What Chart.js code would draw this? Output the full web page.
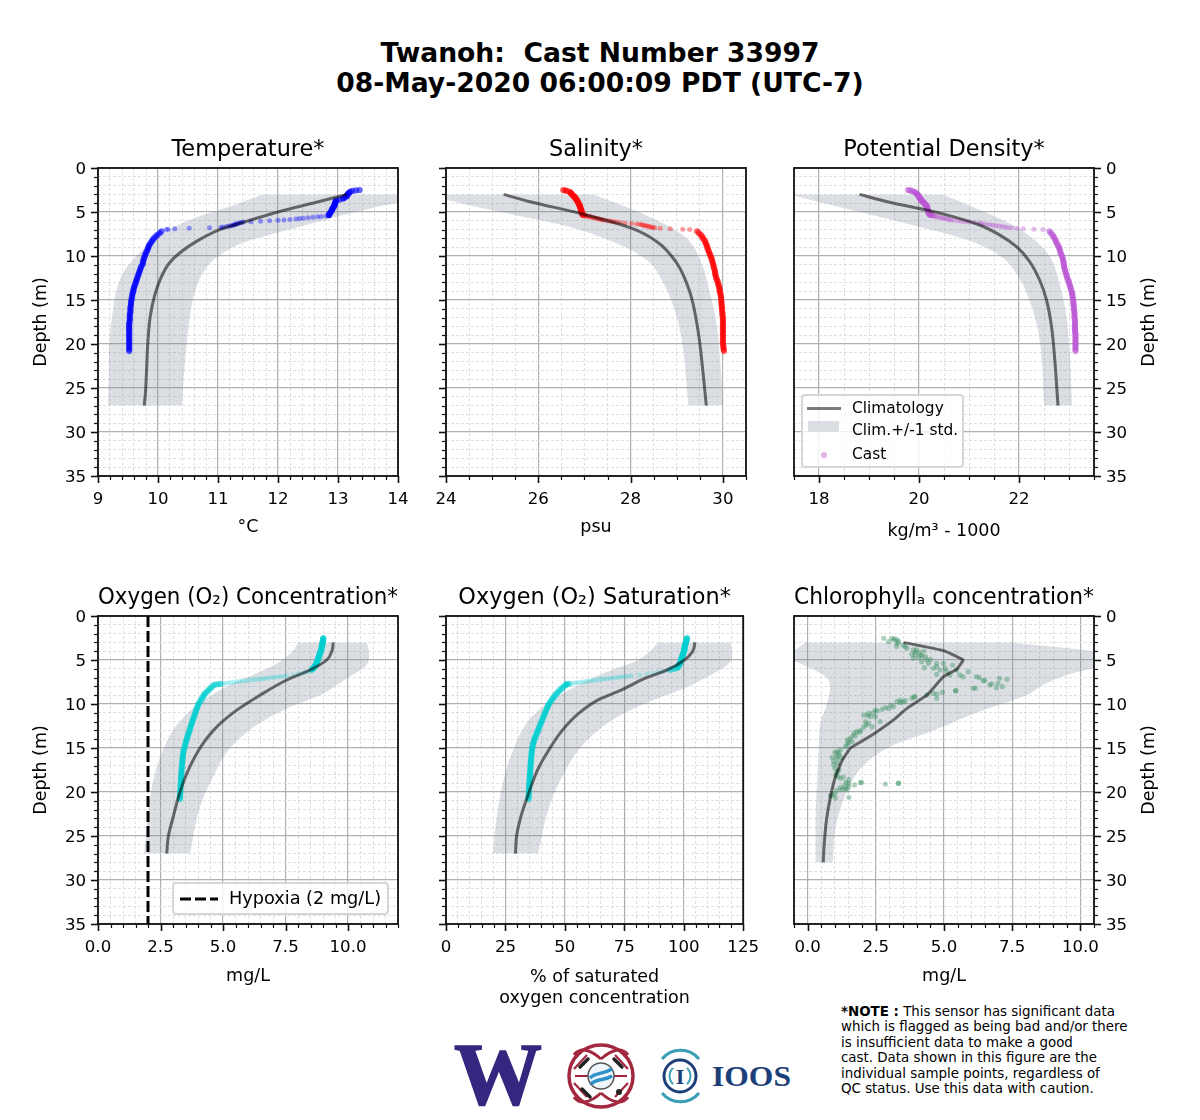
<!DOCTYPE html>
<html>
<head>
<meta charset="utf-8">
<title>Twanoh cast 33997</title>
<script src="https://cdn.jsdelivr.net/npm/chart.js@4"></script>
<style>
  html, body { margin: 0; padding: 0; background: #fff; }
  body { position: relative; width: 1200px; height: 1120px; overflow: hidden; font-family: "DejaVu Sans", sans-serif; color: #000; }
  canvas { position: absolute; display: block; }
  #main-title { position: absolute; left: 0; width: 1200px; top: 38px; text-align: center; font-weight: bold; font-size: 26.6px; line-height: 30px; white-space: pre; }
  #note { position: absolute; left: 841px; top: 1004px; font-size: 13.4px; line-height: 15.4px; white-space: pre; }
  .legend { position: absolute; box-sizing: border-box; background: rgba(255, 255, 255, 0.8); border: 2px solid #d6d6d6; border-radius: 4px; }
  .legend span { position: absolute; white-space: pre; line-height: 18px; }
  #logos { position: absolute; left: 440px; top: 1035px; }
</style>
</head>
<body>
<div id="main-title">Twanoh:  Cast Number 33997
08-May-2020 06:00:09 PDT (UTC-7)</div>

<canvas id="temp"></canvas>
<canvas id="sal"></canvas>
<canvas id="rho"></canvas>
<canvas id="o2conc"></canvas>
<canvas id="o2sat"></canvas>
<canvas id="chl"></canvas>

<div class="legend" style="left:801px;top:394px;width:163px;height:74px;font-size:15.4px;">
  <span style="left:4px;top:11px;width:34px;height:3px;background:#7a7a7a;"></span>
  <span style="left:5px;top:25px;width:31px;height:11px;background:#dbdfe3;"></span>
  <span style="left:18px;top:56px;width:6px;height:6px;border-radius:3px;background:#e5b3ea;"></span>
  <span style="left:49px;top:3px;">Climatology</span>
  <span style="left:49px;top:25px;">Clim.+/-1 std.</span>
  <span style="left:49px;top:49px;">Cast</span>
</div>
<div class="legend" style="left:172px;top:882px;width:217px;height:33px;font-size:17.7px;">
  <svg style="position:absolute;left:6px;top:12px;" width="40" height="6"><line x1="0" y1="3" x2="38" y2="3" stroke="#000" stroke-width="3" stroke-dasharray="11,4"></line></svg>
  <span style="left:55px;top:5px;">Hypoxia (2 mg/L)</span>
</div>

<svg id="logos" width="360" height="80" viewBox="0 0 360 80">
  <text x="58" y="69" text-anchor="middle" font-family="Liberation Serif" font-weight="bold" font-size="88" fill="#33277f" stroke="#33277f" stroke-width="1.5">W</text>
  <g fill="none" stroke="#a3283f">
    <ellipse cx="161" cy="41" rx="32" ry="31" stroke-width="3.5"></ellipse>
    <path d="M161 24 C150 14 140 12 134 20 M161 24 C172 14 182 12 188 20 M161 58 C150 68 140 70 134 62 M161 58 C172 68 182 70 188 62" stroke-width="3"></path>
    <path d="M134 48 L147 62 M188 48 L175 62 M134 34 L147 20 M188 34 L175 20 M135 41 L148 41 M187 41 L174 41" stroke-width="2.2"></path>
  </g>
  <g stroke="#222" stroke-width="3.5" stroke-linecap="round">
    <line x1="140" y1="32" x2="148" y2="24"></line><line x1="174" y1="24" x2="182" y2="32"></line>
    <line x1="142" y1="54" x2="150" y2="62"></line>
  </g>
  <circle cx="179" cy="57" r="3" fill="#222"></circle>
  <circle cx="161" cy="41" r="13" fill="#eef6fb" stroke="#555" stroke-width="1.5"></circle>
  <path d="M150 43 C156 37 162 40 172 34 M151 49 C157 43 164 46 172 41" fill="none" stroke="#2f8fc9" stroke-width="3.5"></path>
  <g fill="none">
    <path d="M222 24 A24 24 0 0 1 259 24" stroke="#3a9fb4" stroke-width="3"></path>
    <path d="M222 58 A24 24 0 0 0 259 58" stroke="#3a9fb4" stroke-width="3"></path>
    <circle cx="240" cy="41" r="16" stroke="#1d3f79" stroke-width="3"></circle>
    <path d="M233 33 A11 11 0 0 0 233 49 M247 33 A11 11 0 0 1 247 49" stroke="#3a9fb4" stroke-width="2"></path>
  </g>
  <text x="240" y="49" text-anchor="middle" font-family="Liberation Serif" font-weight="bold" font-size="22" fill="#1d3f79">I</text>
  <text x="272" y="51" font-family="Liberation Serif" font-weight="bold" font-size="30" textLength="79" lengthAdjust="spacingAndGlyphs" fill="#1d3f79">IOOS</text>
</svg>

<div id="note"><b>*NOTE :</b> This sensor has significant data
which is flagged as being bad and/or there
is insufficient data to make a good
cast. Data shown in this figure are the
individual sample points, regardless of
QC status. Use this data with caution.</div>

<script>
// cast depths shared by temperature, salinity and density (m)
const castDepth = [
  2.5, 2.55, 2.6, 2.7, 2.8, 2.9, 3.0, 3.1, 3.2, 3.3, 3.4, 3.5, 3.6, 3.7, 3.8, 3.9, 4.0, 4.1, 4.2, 4.3, 4.4, 4.5, 4.6, 4.7, 4.8, 4.9, 5.0, 5.1, 5.2, 5.3,
  5.35, 5.4, 5.42, 5.45, 5.5, 5.55, 5.6, 5.65, 5.7, 5.75, 5.8, 5.85, 5.9, 5.95, 6.0, 6.05, 6.1, 6.15, 6.2, 6.25, 6.3, 6.35, 6.4, 6.45, 6.5, 6.55, 6.6, 6.65, 6.7, 6.75, 6.8, 6.85, 6.9, 6.95, 7.0,
  7.2, 7.4, 7.6, 7.8, 8.0, 8.2, 8.4, 8.6, 8.8, 9.0, 9.2, 9.4, 9.6, 9.8, 10.0, 10.2, 10.4, 10.6, 10.8, 11.0, 11.2, 11.4, 11.6, 11.8, 12.0, 12.2, 12.4, 12.6, 12.8, 13.0, 13.2, 13.4, 13.6, 13.8, 14.0,
  14.2, 14.4, 14.6, 14.8, 15.0, 15.2, 15.4, 15.6, 15.8, 16.0, 16.2, 16.4, 16.6, 16.8, 17.0, 17.2, 17.4, 17.6, 17.8, 18.0, 18.2, 18.4, 18.6, 18.8, 19.0, 19.2, 19.4, 19.6, 19.8, 20.0, 20.2, 20.4, 20.6, 20.8
];
const tempCast = [
  13.36, 13.3, 13.24, 13.2, 13.19, 13.17, 13.16, 13.15, 13.15, 13.12, 13.1, 13.08, 13.02, 12.97, 12.96, 12.96, 12.95, 12.95, 12.94, 12.94, 12.93, 12.92, 12.91, 12.9, 12.9, 12.89, 12.88, 12.87, 12.86, 12.85,
  12.85, 12.85, 12.84, 12.8, 12.72, 12.66, 12.58, 12.5, 12.42, 12.36, 12.3, 12.2, 12.1, 12.0, 11.86, 11.71, 11.55, 11.42, 11.39, 11.36, 11.33, 11.31, 11.29, 11.27, 11.25, 11.22, 11.19, 11.14, 11.08, 11.05, 10.86, 10.52, 10.28, 10.17, 10.14,
  10.06, 10.03, 9.99, 9.96, 9.93, 9.91, 9.89, 9.87, 9.85, 9.84, 9.83, 9.82, 9.8, 9.79, 9.78, 9.77, 9.76, 9.75, 9.75, 9.74, 9.72, 9.71, 9.7, 9.69, 9.68, 9.67, 9.66, 9.65, 9.64, 9.63, 9.62, 9.61, 9.6, 9.59, 9.59,
  9.58, 9.57, 9.57, 9.56, 9.56, 9.55, 9.55, 9.55, 9.54, 9.54, 9.54, 9.54, 9.53, 9.53, 9.53, 9.53, 9.53, 9.52, 9.52, 9.52, 9.52, 9.52, 9.52, 9.52, 9.52, 9.52, 9.52, 9.52, 9.52, 9.52, 9.52, 9.52, 9.52, 9.52
];
const salCast = [
  26.54, 26.58, 26.62, 26.68, 26.7, 26.71, 26.73, 26.75, 26.77, 26.79, 26.8, 26.81, 26.83, 26.84, 26.85, 26.86, 26.87, 26.88, 26.89, 26.9, 26.9, 26.91, 26.92, 26.92, 26.93, 26.93, 26.94, 26.95, 26.95, 26.96,
  26.98, 27.0, 27.02, 27.05, 27.08, 27.12, 27.16, 27.2, 27.24, 27.28, 27.32, 27.36, 27.4, 27.45, 27.52, 27.58, 27.64, 27.7, 27.78, 27.88, 28.02, 28.13, 28.2, 28.24, 28.28, 28.32, 28.36, 28.4, 28.44, 28.48, 28.52, 28.64, 28.86, 29.13, 29.28,
  29.44, 29.48, 29.52, 29.55, 29.57, 29.6, 29.62, 29.63, 29.65, 29.66, 29.67, 29.69, 29.7, 29.72, 29.73, 29.75, 29.76, 29.77, 29.78, 29.79, 29.8, 29.81, 29.82, 29.83, 29.83, 29.84, 29.85, 29.86, 29.88, 29.89, 29.9, 29.91, 29.92, 29.93, 29.93,
  29.94, 29.95, 29.96, 29.96, 29.96, 29.97, 29.97, 29.97, 29.98, 29.98, 29.98, 29.99, 29.99, 29.99, 30.0, 30.0, 30.0, 30.0, 30.0, 30.0, 30.0, 30.0, 30.0, 30.0, 30.0, 30.0, 30.0, 30.0, 30.0, 30.0, 30.01, 30.01, 30.02, 30.02
];
const rhoCast = [
  19.78, 19.82, 19.86, 19.9, 19.93, 19.95, 19.97, 19.98, 20.0, 20.0, 20.01, 20.03, 20.04, 20.05, 20.07, 20.09, 20.1, 20.12, 20.14, 20.15, 20.16, 20.16, 20.17, 20.17, 20.18, 20.18, 20.19, 20.19, 20.2, 20.22,
  20.24, 20.26, 20.28, 20.3, 20.33, 20.36, 20.4, 20.44, 20.48, 20.52, 20.56, 20.6, 20.64, 20.7, 20.78, 20.85, 20.92, 21.0, 21.1, 21.2, 21.25, 21.3, 21.36, 21.42, 21.48, 21.54, 21.6, 21.66, 21.72, 21.78, 21.85, 21.96, 22.08, 22.3, 22.48,
  22.61, 22.64, 22.67, 22.69, 22.71, 22.73, 22.74, 22.76, 22.78, 22.8, 22.81, 22.82, 22.83, 22.84, 22.86, 22.87, 22.88, 22.89, 22.89, 22.9, 22.9, 22.91, 22.92, 22.93, 22.94, 22.95, 22.96, 22.97, 22.99, 23.0, 23.01, 23.02, 23.03, 23.04, 23.05,
  23.06, 23.07, 23.07, 23.08, 23.08, 23.09, 23.09, 23.09, 23.1, 23.1, 23.1, 23.11, 23.11, 23.11, 23.11, 23.12, 23.12, 23.12, 23.12, 23.12, 23.12, 23.12, 23.12, 23.13, 23.13, 23.13, 23.13, 23.13, 23.13, 23.13, 23.13, 23.13, 23.13, 23.13
];

// cast depths for the two oxygen panels (m)
const o2Depth = [
  2.5, 2.6, 2.7, 2.8, 2.9, 3.0, 3.1, 3.2, 3.3, 3.4, 3.5, 3.6, 3.7, 3.8, 3.9, 4.0, 4.1, 4.2, 4.3, 4.4, 4.5, 4.6, 4.7, 4.8, 4.9, 5.0, 5.1, 5.2, 5.3,
  5.4, 5.5, 5.6, 5.7, 5.8, 5.9, 6.0, 6.1, 6.2, 6.3, 6.4, 6.5, 6.6, 6.7,
  6.8, 6.84, 6.88, 6.92, 6.96, 7.0, 7.04, 7.08, 7.12, 7.16, 7.2, 7.24, 7.28, 7.32, 7.36, 7.4, 7.44, 7.48, 7.52, 7.56, 7.6, 7.64, 7.68, 7.72, 7.76,
  7.8, 8.0, 8.2, 8.4, 8.6, 8.8, 9.0, 9.2, 9.4, 9.6, 9.8, 10.0, 10.2, 10.4, 10.6, 10.8, 11.0, 11.2, 11.4, 11.6, 11.8, 12.0, 12.2, 12.4, 12.6, 12.8, 13.0, 13.2, 13.4, 13.6, 13.8, 14.0,
  14.2, 14.4, 14.6, 14.8, 15.0, 15.2, 15.4, 15.6, 15.8, 16.0, 16.2, 16.4, 16.6, 16.8, 17.0, 17.2, 17.4, 17.6, 17.8, 18.0, 18.2, 18.4, 18.6, 18.8, 19.0, 19.2, 19.4, 19.6, 19.8, 20.0, 20.2, 20.4, 20.6, 20.8
];
const o2ConcCast = [
  9.01, 9.01, 9.0, 9.0, 8.99, 8.99, 8.98, 8.98, 8.97, 8.96, 8.95, 8.95, 8.94, 8.93, 8.92, 8.91, 8.9, 8.89, 8.87, 8.86, 8.85, 8.84, 8.82, 8.81, 8.8, 8.79, 8.78, 8.76, 8.75,
  8.74, 8.72, 8.7, 8.68, 8.65, 8.62, 8.59, 8.55, 8.5, 8.42, 8.3, 8.15, 8.0, 7.8,
  7.55, 7.42, 7.3, 7.18, 7.06, 6.95, 6.82, 6.7, 6.6, 6.48, 6.36, 6.24, 6.12, 6.0, 5.88, 5.76, 5.65, 5.54, 5.43, 5.32, 5.22, 5.12, 5.02, 4.9, 4.78,
  4.66, 4.58, 4.5, 4.43, 4.36, 4.28, 4.24, 4.2, 4.15, 4.11, 4.06, 4.02, 3.99, 3.97, 3.94, 3.92, 3.89, 3.87, 3.85, 3.82, 3.8, 3.77, 3.75, 3.73, 3.7, 3.68, 3.66, 3.64, 3.62, 3.59, 3.57, 3.55,
  3.53, 3.51, 3.49, 3.47, 3.45, 3.43, 3.42, 3.41, 3.4, 3.39, 3.38, 3.38, 3.37, 3.36, 3.36, 3.35, 3.35, 3.34, 3.34, 3.33, 3.33, 3.32, 3.32, 3.32, 3.31, 3.31, 3.3, 3.3, 3.3, 3.29, 3.29, 3.28, 3.28, 3.28
];
const o2SatCast = [
  101.4, 101.3, 101.2, 101.1, 101.0, 100.9, 100.8, 100.7, 100.6, 100.5, 100.4, 100.4, 100.3, 100.3, 100.2, 100.1, 100.0, 99.9, 99.7, 99.6, 99.5, 99.4, 99.2, 99.1, 99.0, 98.9, 98.8, 98.7, 98.6,
  98.4, 98.2, 98.0, 97.8, 97.5, 97.2, 96.0, 94.5, 93.0, 91.0, 89.0, 87.0, 84.5, 81.5,
  78.0, 76.7, 75.4, 74.0, 72.8, 71.5, 70.2, 69.0, 67.8, 66.6, 65.5, 64.3, 63.1, 62.0, 60.9, 59.8, 58.7, 57.6, 56.6, 55.5, 54.5, 53.5, 52.5, 51.6, 50.8,
  50.4, 49.6, 48.8, 48.0, 47.3, 46.6, 46.0, 45.4, 44.8, 44.3, 43.8, 43.3, 43.0, 42.6, 42.3, 42.0, 41.7, 41.4, 41.1, 40.8, 40.5, 40.2, 39.9, 39.6, 39.3, 39.0, 38.7, 38.4, 38.1, 37.8, 37.5, 37.2,
  37.0, 36.8, 36.6, 36.4, 36.3, 36.2, 36.1, 36.0, 35.9, 35.9, 35.8, 35.7, 35.7, 35.6, 35.6, 35.5, 35.5, 35.4, 35.4, 35.3, 35.3, 35.2, 35.2, 35.1, 35.1, 35.0, 35.0, 34.9, 34.9, 34.8, 34.8, 34.8, 34.7, 34.7
];

// chlorophyll samples are scattered, so they keep their own depth list
const chlDepth = [
  2.54, 2.92, 2.54, 2.61, 2.73, 2.7, 3.1, 2.95, 3.48, 3.48, 3.67, 3.3, 3.86, 3.86, 3.98, 4.1, 4.15, 4.36, 4.43, 4.43, 4.62, 4.81, 4.7, 4.55, 5.0, 5.19, 5.38, 4.95, 5.87, 5.95,
  5.38, 5.38, 5.76, 5.95, 5.57, 6.14, 6.7, 6.14, 6.63, 6.89, 6.33, 6.7, 6.3, 6.89, 7.0, 7.35, 7.3, 7.84, 7.7, 7.08, 7.2, 7.65, 8.03, 8.14, 8.22, 8.2, 8.48, 8.5, 8.67, 8.86,
  8.8, 9.36, 8.97, 9.17, 9.36, 9.2, 9.62, 9.55, 9.75, 9.73, 9.85, 10.3, 10.15, 10.5, 10.6, 10.4, 10.68, 10.8, 11.06, 11.0, 11.25, 11.44, 11.44, 11.3, 12.0, 12.0, 12.2, 12.6, 12.6, 12.4,
  13.0, 13.1, 13.2, 13.3, 13.7, 13.6, 14.1, 14.0, 14.3, 14.4, 14.85, 14.6, 15.4, 15.2, 15.6, 15.5, 16.06, 15.8, 16.0, 16.1, 16.3, 16.9, 16.5, 16.8, 17.7, 17.3, 17.5, 18.07, 18.2, 18.45,
  18.3, 18.6, 18.9, 18.94, 18.9, 19.2, 19.05, 19.4, 19.3, 19.7, 19.6, 19.8, 19.5, 19.75, 20.45, 20.3, 20.7, 20.2, 20.6, 19.1, 19.0, 19.02
];
const chlCast = [
  2.79, 2.97, 3.09, 3.21, 3.3, 3.15, 3.27, 3.33, 3.27, 3.58, 3.64, 3.5, 3.88, 4.0, 4.26, 3.95, 4.1, 3.82, 3.94, 4.14, 4.32, 3.88, 4.07, 4.2, 4.37, 4.18, 4.43, 4.5, 4.28, 4.61,
  4.73, 4.98, 4.73, 5.04, 5.32, 4.85, 5.22, 5.46, 4.73, 5.7, 5.89, 5.58, 5.1, 6.19, 6.3, 6.44, 6.5, 6.68, 6.75, 7.04, 7.31, 6.98, 7.14, 6.92, 6.07, 6.15, 5.43, 5.43, 4.94, 4.73,
  4.6, 4.73, 4.37, 3.94, 3.82, 3.9, 3.58, 3.39, 3.5, 3.27, 3.4, 3.15, 3.05, 2.97, 2.73, 2.85, 2.48, 2.55, 2.24, 2.4, 2.06, 2.3, 2.48, 2.2, 2.66, 2.12, 2.24, 2.36, 2.06, 2.15,
  1.95, 1.81, 1.9, 1.7, 1.63, 1.75, 1.45, 1.55, 1.63, 1.5, 1.39, 1.45, 1.08, 1.2, 1.15, 1.0, 0.9, 1.14, 1.05, 1.25, 1.1, 0.96, 0.95, 1.1, 1.08, 1.0, 1.15, 1.02, 1.1, 1.2,
  1.3, 1.51, 1.4, 1.93, 1.98, 1.72, 1.5, 1.51, 1.35, 1.27, 1.4, 1.08, 1.2, 1.45, 0.84, 0.9, 1.02, 1.0, 1.51, 2.85, 3.33, 3.33
];

// climatology mean and +/- 1 std edges
const tempClimDepth = [3, 3.9, 5, 6.06, 7, 8.14, 9.66, 10.8, 12.3, 14.6, 16.9, 19.9, 22.9, 25.6, 27];
const tempClim = [13.15, 12.64, 12.0, 11.47, 11.03, 10.69, 10.36, 10.19, 10.06, 9.94, 9.87, 9.83, 9.81, 9.79, 9.77];
const tempLowDepth = [3, 4.5, 6.06, 7.76, 9.66, 11.7, 13.8, 16.1, 19.9, 23.7, 27];
const tempLow = [11.75, 11.14, 10.47, 10.03, 9.69, 9.44, 9.31, 9.25, 9.19, 9.18, 9.17];
const tempHighDepth = [3, 4, 4.9, 5.87, 7.4, 8.5, 10.2, 11.9, 14.2, 16.5, 19.9, 23.7, 27];
const tempHigh = [15.6, 14.0, 13.36, 12.8, 11.97, 11.42, 10.97, 10.75, 10.61, 10.54, 10.48, 10.43, 10.4];

const salClimDepth = [3, 3.83, 5.15, 6.78, 8.37, 10.8, 14.2, 18.8, 21.8, 27];
const salClim = [25.25, 25.82, 26.9, 27.99, 28.57, 29.0, 29.29, 29.47, 29.54, 29.64];
const salLowDepth = [3, 3.6, 5.3, 6.5, 8.4, 10.45, 13.1, 16.9, 20.7, 27];
const salLow = [23.6, 24.0, 25.46, 26.54, 27.63, 28.35, 28.71, 29.0, 29.14, 29.25];
const salHighDepth = [3, 4.6, 6.3, 8, 10.45, 14.2, 18, 21.8, 27];
const salHigh = [27.19, 27.99, 28.71, 29.22, 29.51, 29.72, 29.87, 29.94, 30.0];

const rhoClimDepth = [3, 3.9, 4.77, 5.53, 6.48, 7.6, 8.94, 10.6, 12.7, 15, 18, 21.4, 27];
const rhoClim = [18.81, 19.41, 20.15, 20.68, 21.21, 21.61, 21.95, 22.21, 22.41, 22.55, 22.65, 22.71, 22.78];
const rhoLowDepth = [3, 5, 6.5, 8, 9.7, 12, 14.6, 17.65, 21.4, 27];
const rhoLow = [17.4, 18.81, 19.88, 20.88, 21.55, 21.95, 22.18, 22.35, 22.45, 22.5];
const rhoHighDepth = [3, 4.6, 6.1, 8, 10, 13.1, 16.9, 20.7, 27];
const rhoHigh = [20.48, 21.15, 21.75, 22.28, 22.61, 22.81, 22.95, 23.01, 23.06];

const o2ConcClimDepth = [3, 3.86, 5, 6.14, 7.27, 9, 10.7, 12.6, 14.7, 17.1, 20, 22.8, 25.1, 27];
const o2ConcClim = [9.41, 9.37, 9.15, 8.48, 7.55, 6.48, 5.55, 4.75, 4.15, 3.68, 3.28, 3.01, 2.81, 2.75];
const o2ConcLowDepth = [3, 3.86, 5.2, 6.5, 8, 10.1, 12.95, 15.6, 18.6, 22.4, 27];
const o2ConcLow = [8.01, 7.81, 7.28, 6.35, 5.15, 3.95, 3.01, 2.55, 2.21, 2.01, 1.84];
const o2ConcHighDepth = [3, 4.4, 5.75, 7.1, 9, 10.5, 12.4, 15, 18.25, 21.7, 27];
const o2ConcHigh = [10.75, 10.85, 10.68, 9.95, 8.88, 7.55, 6.35, 5.28, 4.61, 4.08, 3.68];

const o2SatClimDepth = [3, 4, 5, 6.1, 7.1, 8.4, 9.5, 11.06, 13, 15.2, 17.5, 20.5, 22.8, 25, 27];
const o2SatClim = [104.7, 103.8, 100.3, 93.3, 83.6, 73.9, 64.2, 55.8, 48.9, 43.3, 38.5, 34.3, 31.5, 29.7, 29.2];
const o2SatLowDepth = [3, 3.86, 5.2, 6.1, 7.65, 9.5, 11.8, 14.85, 18.25, 22, 27];
const o2SatLow = [89.2, 86.4, 79.4, 69.7, 57.2, 44.7, 35.0, 28.75, 24.6, 21.8, 19.7];
const o2SatHighDepth = [3, 4.25, 5.4, 6.7, 8.2, 9.5, 11, 12.95, 15.2, 18.25, 21.7, 27];
const o2SatHigh = [119.7, 120.4, 119.0, 111.4, 100.3, 87.8, 75.3, 64.2, 55.8, 48.9, 43.3, 38.75];

const chlClimDepth = [3, 3.94, 5, 6.06, 6.9, 9, 10.5, 11.8, 13.15, 14.1, 15, 16.4, 18.25, 20.5, 23.2, 26.2, 28];
const chlClim = [3.52, 4.98, 5.7, 5.46, 4.98, 4.37, 3.64, 3.15, 2.54, 2.06, 1.57, 1.27, 1.02, 0.84, 0.69, 0.6, 0.57];
const chlLowDepth = [3, 3.86, 4.4, 5, 6.1, 7.08, 8.2, 9.9, 12.2, 14.85, 18.6, 23.2, 28];
const chlLow = [-0.07, -0.47, -0.8, -0.55, 0.23, 0.72, 0.82, 0.72, 0.47, 0.41, 0.35, 0.29, 0.29];
const chlHighDepth = [3, 3.4, 4, 5, 5.95, 6.5, 7.65, 9, 10.85, 13.15, 14.5, 16, 18.1, 21.3, 24, 28];
const chlHigh = [7.4, 8.75, 10.5, 11.5, 10.5, 9.72, 8.75, 8.02, 6.31, 4.49, 3.27, 2.42, 1.75, 1.27, 1.02, 0.92];

const hypoxiaDepth = [0, 35];
const hypoxiaLevel = [2, 2];

const depthTicks = { min: 0, max: 35, minor: 1, major: 5 };
const fontFamily = '"DejaVu Sans", sans-serif';
const tickFontSize = 16.6;
const labelFontSize = 17.5;
const bandColor = 'rgba(112, 128, 144, 0.25)';
const climColor = 'rgba(0, 0, 0, 0.55)';

Chart.defaults.font.family = fontFamily;
Chart.defaults.color = '#000';
Chart.defaults.animation = false;

function isMajor(value, major) {
  const ratio = value / major;
  return Math.abs(ratio - Math.round(ratio)) < 1e-6;
}

function points(xs, ys) {
  return xs.map((x, i) => ({ x, y: ys[i] }));
}

// ticks of two lengths and the box round the axes; Chart.js only has one tick length per axis
const axisFrame = {
  id: 'axisFrame',
  afterDraw(chart, args, opts) {
    const { ctx, chartArea: area, scales } = chart;
    ctx.save();
    ctx.strokeStyle = '#111';
    scales.y.ticks.forEach((tick) => {
      const main = isMajor(tick.value, depthTicks.major);
      const py = Math.round(scales.y.getPixelForValue(tick.value)) + 0.5;
      const len = main ? 7 : 4;
      ctx.lineWidth = main ? 1.6 : 1.2;
      ctx.beginPath();
      if (opts.right) {
        ctx.moveTo(area.right, py);
        ctx.lineTo(area.right + len, py);
      } else {
        ctx.moveTo(area.left, py);
        ctx.lineTo(area.left - len, py);
      }
      ctx.stroke();
    });
    scales.x.ticks.forEach((tick) => {
      const main = isMajor(tick.value, opts.xMajor);
      const px = Math.round(scales.x.getPixelForValue(tick.value)) + 0.5;
      ctx.lineWidth = main ? 1.6 : 1.2;
      ctx.beginPath();
      ctx.moveTo(px, area.bottom);
      ctx.lineTo(px, area.bottom + (main ? 7 : 4));
      ctx.stroke();
    });
    ctx.lineWidth = 1.8;
    ctx.strokeRect(area.left, area.top, area.right - area.left, area.bottom - area.top);
    if (opts.right) {
      ctx.translate(area.right + 55, (area.top + area.bottom) / 2);
      ctx.rotate(-Math.PI / 2);
      ctx.fillStyle = '#000';
      ctx.font = `${labelFontSize}px ${fontFamily}`;
      ctx.textAlign = 'center';
      ctx.textBaseline = 'middle';
      ctx.fillText('Depth (m)', 0, 0);
    }
    ctx.restore();
  }
};

function lineSet(label, xs, depths, color, extra) {
  return Object.assign({
    label,
    data: points(xs, depths),
    borderColor: color,
    backgroundColor: color,
    borderWidth: 3,
    pointRadius: 0,
    cubicInterpolationMode: 'monotone'
  }, extra);
}

// samples in the thin thermocline stay pale and small, the rest build up into a solid trace
function castSet(label, xs, depths, rgb, paleFrom, paleTo, paleAlpha) {
  const isPale = (ctx) => ctx.raw && ctx.raw.y >= paleFrom && ctx.raw.y <= paleTo;
  return {
    label,
    data: points(xs, depths),
    showLine: false,
    pointRadius: (ctx) => (isPale(ctx) ? 2.5 : 3.1),
    pointBorderWidth: 0,
    pointBackgroundColor: (ctx) => `rgba(${rgb}, ${isPale(ctx) ? paleAlpha : 0.6})`,
    backgroundColor: `rgb(${rgb})`,
    order: 2
  };
}

function bandSets(lowX, lowDepth, highX, highDepth) {
  const edge = { borderWidth: 0, pointRadius: 0, cubicInterpolationMode: 'monotone', order: 4 };
  return [
    Object.assign({ label: 'low', data: points(lowX, lowDepth), fill: '+1', backgroundColor: bandColor }, edge),
    Object.assign({ label: 'high', data: points(highX, highDepth), fill: false }, edge)
  ];
}

function makePanel(id, cfg) {
  const isRight = cfg.depthSide === 'right';
  const axisWidth = isRight ? 106 : 98;
  const canvas = document.getElementById(id);
  canvas.width = isRight ? 426 : 418;
  canvas.height = 44 + 308 + cfg.xHeight;
  canvas.style.left = `${cfg.left - (isRight ? 20 : 98)}px`;
  canvas.style.top = `${cfg.top - 44}px`;

  return new Chart(canvas, {
    type: 'line',
    data: { datasets: cfg.datasets },
    plugins: [axisFrame],
    options: {
      responsive: false,
      indexAxis: 'y',
      layout: { padding: { left: isRight ? 20 : 0, right: isRight ? 0 : 20, top: 0, bottom: 0 } },
      plugins: {
        legend: { display: false },
        tooltip: { enabled: false },
        title: {
          display: true,
          fullSize: false,
          text: cfg.title,
          color: '#000',
          font: { size: 22.4, weight: 'normal', lineHeight: 1 },
          padding: { top: 15, bottom: 6.6 }
        },
        axisFrame: { right: isRight, xMajor: cfg.xMajor }
      },
      scales: {
        x: {
          type: 'linear',
          min: cfg.xMin,
          max: cfg.xMax,
          afterFit: (scale) => { scale.height = cfg.xHeight; },
          grid: gridFor(cfg.xMajor),
          border: borderFor(cfg.xMajor),
          title: { display: true, text: cfg.xLabel, color: '#000', font: { size: labelFontSize, lineHeight: 1.2 }, padding: 0 },
          ticks: {
            stepSize: cfg.xMinor,
            autoSkip: false,
            maxRotation: 0,
            padding: 7,
            color: '#000',
            font: { size: tickFontSize },
            callback: (value) => (isMajor(value, cfg.xMajor) ? value.toFixed(cfg.xDecimals) : '')
          }
        },
        y: {
          type: 'linear',
          position: isRight ? 'right' : 'left',
          reverse: true,
          min: depthTicks.min,
          max: depthTicks.max,
          afterFit: (scale) => { scale.width = axisWidth; },
          grid: gridFor(depthTicks.major),
          border: borderFor(depthTicks.major),
          title: { display: cfg.depthSide === 'left', text: 'Depth (m)', color: '#000', font: { size: labelFontSize, lineHeight: 1.2 }, padding: { top: 31, bottom: 0 } },
          ticks: {
            stepSize: depthTicks.minor,
            autoSkip: false,
            padding: 5,
            labelOffset: 1.5,
            color: '#000',
            font: { size: tickFontSize },
            callback: (value) => (cfg.depthSide !== 'none' && isMajor(value, depthTicks.major) ? String(value) : '')
          }
        }
      }
    }
  });
}

function gridFor(major) {
  return {
    color: (ctx) => (ctx.tick && isMajor(ctx.tick.value, major) ? '#b0b0b0' : '#dddddd'),
    lineWidth: (ctx) => (ctx.tick && isMajor(ctx.tick.value, major) ? 1.2 : 0.9),
    tickLength: 7,
    tickColor: 'rgba(0, 0, 0, 0)'
  };
}

function borderFor(major) {
  return {
    display: false,
    dash: (ctx) => (ctx.tick && !isMajor(ctx.tick.value, major) ? [3, 2] : [])
  };
}

const rowOneTop = 168;
const rowTwoTop = 616;
const colLefts = [98, 446, 794];

makePanel('temp', {
  left: colLefts[0], top: rowOneTop, title: 'Temperature*', xLabel: '°C', xHeight: 62, depthSide: 'left',
  xMin: 9, xMax: 14, xMinor: 0.2, xMajor: 1, xDecimals: 0,
  datasets: [
    lineSet('Climatology', tempClim, tempClimDepth, climColor, { order: 1 }),
    castSet('Cast', tempCast, castDepth, '0, 0, 255', 5.4, 7.0, 0.38),
    ...bandSets(tempLow, tempLowDepth, tempHigh, tempHighDepth)
  ]
});

makePanel('sal', {
  left: colLefts[1], top: rowOneTop, title: 'Salinity*', xLabel: 'psu', xHeight: 62, depthSide: 'none',
  xMin: 24, xMax: 30.5, xMinor: 0.5, xMajor: 2, xDecimals: 0,
  datasets: [
    lineSet('Climatology', salClim, salClimDepth, climColor, { order: 1 }),
    castSet('Cast', salCast, castDepth, '255, 0, 0', 5.4, 7.0, 0.38),
    ...bandSets(salLow, salLowDepth, salHigh, salHighDepth)
  ]
});

makePanel('rho', {
  left: colLefts[2], top: rowOneTop, title: 'Potential Density*', xLabel: 'kg/m³ - 1000', xHeight: 66, depthSide: 'right',
  xMin: 17.5, xMax: 23.5, xMinor: 0.5, xMajor: 2, xDecimals: 0,
  datasets: [
    lineSet('Climatology', rhoClim, rhoClimDepth, climColor, { order: 1 }),
    castSet('Cast', rhoCast, castDepth, '186, 85, 211', 5.4, 7.0, 0.38),
    ...bandSets(rhoLow, rhoLowDepth, rhoHigh, rhoHighDepth)
  ]
});

makePanel('o2conc', {
  left: colLefts[0], top: rowTwoTop, title: 'Oxygen (O₂) Concentration*', xLabel: 'mg/L', xHeight: 63, depthSide: 'left',
  xMin: 0, xMax: 12, xMinor: 0.5, xMajor: 2.5, xDecimals: 1,
  datasets: [
    lineSet('Hypoxia (2 mg/L)', hypoxiaLevel, hypoxiaDepth, '#000', { borderDash: [11, 4], cubicInterpolationMode: 'default', tension: 0, order: 0 }),
    lineSet('Climatology', o2ConcClim, o2ConcClimDepth, climColor, { order: 1 }),
    castSet('Cast', o2ConcCast, o2Depth, '0, 206, 209', 6.2, 7.7, 0.22),
    ...bandSets(o2ConcLow, o2ConcLowDepth, o2ConcHigh, o2ConcHighDepth)
  ]
});

makePanel('o2sat', {
  left: colLefts[1], top: rowTwoTop, title: 'Oxygen (O₂) Saturation*', xLabel: ['% of saturated', 'oxygen concentration'], xHeight: 85, depthSide: 'none',
  xMin: 0, xMax: 125, xMinor: 5, xMajor: 25, xDecimals: 0,
  datasets: [
    lineSet('Climatology', o2SatClim, o2SatClimDepth, climColor, { order: 1 }),
    castSet('Cast', o2SatCast, o2Depth, '0, 206, 209', 6.2, 7.7, 0.22),
    ...bandSets(o2SatLow, o2SatLowDepth, o2SatHigh, o2SatHighDepth)
  ]
});

makePanel('chl', {
  left: colLefts[2], top: rowTwoTop, title: 'Chlorophyllₐ concentration*', xLabel: 'mg/L', xHeight: 63, depthSide: 'right',
  xMin: -0.5, xMax: 10.5, xMinor: 0.5, xMajor: 2.5, xDecimals: 1,
  datasets: [
    lineSet('Climatology', chlClim, chlClimDepth, climColor, { order: 1, cubicInterpolationMode: 'default', tension: 0.1 }),
    {
      label: 'Cast',
      data: points(chlCast, chlDepth),
      showLine: false,
      pointRadius: 2.6,
      pointBorderWidth: 0,
      pointBackgroundColor: 'rgba(46, 139, 87, 0.38)',
      backgroundColor: 'rgb(46, 139, 87)',
      order: 2
    },
    ...bandSets(chlLow, chlLowDepth, chlHigh, chlHighDepth)
  ]
});
</script>
</body>
</html>
